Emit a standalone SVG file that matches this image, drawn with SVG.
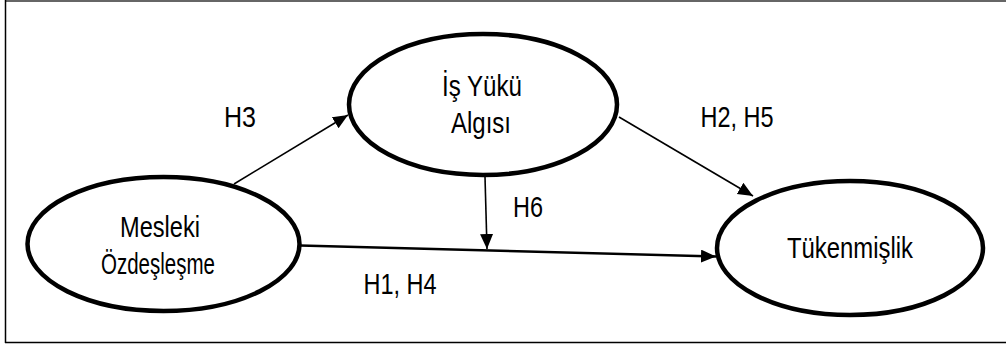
<svg xmlns="http://www.w3.org/2000/svg" width="1006" height="345" viewBox="0 0 1006 345">
  <defs>
    <marker id="arrow" markerUnits="userSpaceOnUse" markerWidth="16" markerHeight="14" refX="15" refY="6.5" orient="auto">
      <path d="M0,0 L15,6.5 L0,13 z" fill="#000"/>
    </marker>
    <style>
      .node ellipse { fill: #fff; stroke: #000; stroke-width: 4.5; }
      text { font-family: "Liberation Sans Narrow", "Arial Narrow", "Liberation Sans", Arial, sans-serif; font-size: 30px; fill: #000; }
      .c { text-anchor: middle; }
      .edge { stroke: #000; stroke-width: 1.6; fill: none; marker-end: url(#arrow); }
    </style>
  </defs>
  <rect width="1006" height="345" fill="#fff"/>
  <g id="frame">
    <line x1="5" y1="1" x2="1006" y2="1" stroke="#666" stroke-width="2"/>
    <line x1="5.5" y1="0" x2="5.5" y2="343" stroke="#000" stroke-width="1.5"/>
    <line x1="5" y1="342.5" x2="1006" y2="342.5" stroke="#000" stroke-width="1.5"/>
  </g>
  <g id="connectors">
    <line class="edge" x1="234" y1="184" x2="348" y2="115"/>
    <line class="edge" x1="619" y1="117" x2="753" y2="196"/>
    <line class="edge" x1="485" y1="177" x2="487" y2="249"/>
    <line class="edge" x1="300" y1="245.5" x2="716" y2="256.5" style="stroke-width:2.4"/>
  </g>
  <g id="labels">
    <text x="240" y="127" class="c" textLength="32" lengthAdjust="spacingAndGlyphs">H3</text>
    <text x="737" y="127" class="c" textLength="73" lengthAdjust="spacingAndGlyphs">H2, H5</text>
    <text x="528" y="217" class="c" textLength="30" lengthAdjust="spacingAndGlyphs">H6</text>
    <text x="400" y="294" class="c" textLength="73" lengthAdjust="spacingAndGlyphs">H1, H4</text>
  </g>
  <g id="node-isyuku" class="node">
    <ellipse cx="483" cy="104.5" rx="134" ry="70.5"/>
    <text x="482" y="96" class="c" textLength="80" lengthAdjust="spacingAndGlyphs">İş Yükü</text>
    <text x="481" y="133" class="c" textLength="60" lengthAdjust="spacingAndGlyphs">Algısı</text>
  </g>
  <g id="node-mesleki" class="node">
    <ellipse cx="163.5" cy="244" rx="136" ry="67"/>
    <text x="160" y="237" class="c" textLength="80" lengthAdjust="spacingAndGlyphs">Mesleki</text>
    <text x="158" y="274" class="c" textLength="114" lengthAdjust="spacingAndGlyphs">Özdeşleşme</text>
  </g>
  <g id="node-tukenmislik" class="node">
    <ellipse cx="850" cy="248" rx="133" ry="67"/>
    <text x="850" y="258" class="c" textLength="126" lengthAdjust="spacingAndGlyphs">Tükenmişlik</text>
  </g>
</svg>
